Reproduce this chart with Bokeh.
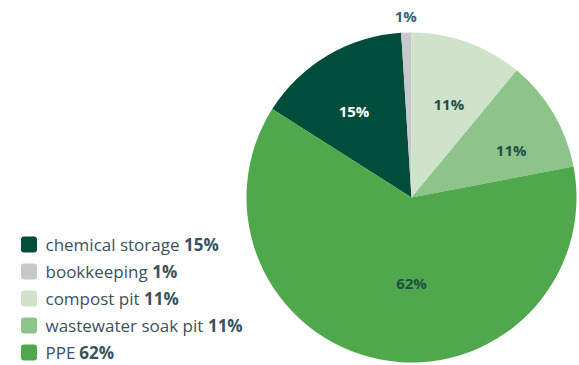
import math
from bokeh.plotting import figure
from bokeh.models import ColumnDataSource, Range1d
from bokeh.core.properties import value
from bokeh.embed import file_html
from bokeh.resources import INLINE

# ---- data ----
categories = ["chemical storage", "bookkeeping", "compost pit", "wastewater soak pit", "PPE"]
shares = [15, 1, 11, 11, 62]
pct_labels = ["15%", "1%", "11%", "11%", "62%"]

# ---- style ----
colors = ["#004d3c", "#c5c9c9", "#cfe3cb", "#8dc489", "#4fa84b"]
label_colors = ["#ffffff", "#2f6673", "#1f4f4a", "#1f4f4a", "#1f4f4a"]
label_r = [0.63, 1.10, 0.61, 0.67, 0.52]
label_turn = [3, 0, -2, -5, 10.8]   # degrees, nudges from the slice middle
W, H = 579, 365
CX, CY, R = 411, 168, 165
FONT = "Open Sans"
LEG_FS = 17
LEG_COLOR = "#3a5259"

# Open Sans approximate advance widths (em)
REG = {' ': .26, 'a': .556, 'b': .613, 'c': .476, 'd': .613, 'e': .561, 'f': .339, 'g': .548,
       'h': .614, 'i': .253, 'k': .525, 'l': .253, 'm': .930, 'n': .614, 'o': .604, 'p': .613,
       'r': .408, 's': .477, 't': .353, 'u': .614, 'w': .784, 'E': .552, 'P': .586}


def text_w(s, fs):
    return sum(REG.get(ch, .55) for ch in s) * fs


p = figure(width=W, height=H, output_backend="svg", toolbar_location=None,
           x_range=Range1d(0, W), y_range=Range1d(0, H), min_border=0,
           outline_line_color=None)
p.axis.visible = False
p.grid.visible = False
p.background_fill_color = "white"
p.border_fill_color = "white"

total = sum(shares)
# pie begins with "compost pit" at 12 o'clock, clockwise in legend order
start = math.pi / 2 + 2 * math.pi * sum(shares[:2]) / total
starts, ends, mids = [], [], []
a = start
for s in shares:
    span = 2 * math.pi * s / total
    starts.append(a)
    ends.append(a - span)
    mids.append(a - span / 2)
    a -= span

src = ColumnDataSource(dict(start=starts, end=ends, color=colors))
p.wedge(x=CX, y=CY, radius=R, start_angle="start", end_angle="end", direction="clock",
        fill_color="color", line_color=None, source=src)

ang = [m + math.radians(t) for m, t in zip(mids, label_turn)]
lx = [CX + R * f * math.cos(m) for f, m in zip(label_r, ang)]
ly = [CY + R * f * math.sin(m) for f, m in zip(label_r, ang)]
p.text(x=lx, y=ly, text=pct_labels, text_color=label_colors, text_font=value(FONT),
       text_font_style="bold", text_font_size="15px", text_align="center",
       text_baseline="middle")

# legend
ly0, dy = 121, 27
sq = 16
rows_y = [ly0 - i * dy for i in range(len(categories))]
sq_x = 28.5
p.quad(left=[sq_x - sq / 2] * len(categories), right=[sq_x + sq / 2] * len(categories),
       bottom=[y - sq / 2 for y in rows_y], top=[y + sq / 2 for y in rows_y],
       fill_color=colors, line_color=None, border_radius=3)
tx = 45
p.text(x=[tx] * len(categories), y=rows_y, text=categories, text_color=LEG_COLOR,
       text_font=value(FONT), text_font_size=f"{LEG_FS}px", text_baseline="middle")
bx = [tx + text_w(c + " ", LEG_FS) for c in categories]
p.text(x=bx, y=rows_y, text=pct_labels, text_color=LEG_COLOR,
       text_font=value(FONT), text_font_style="bold", text_font_size=f"{LEG_FS}px",
       text_baseline="middle")

open("out.html", "w").write(file_html(p, INLINE))
